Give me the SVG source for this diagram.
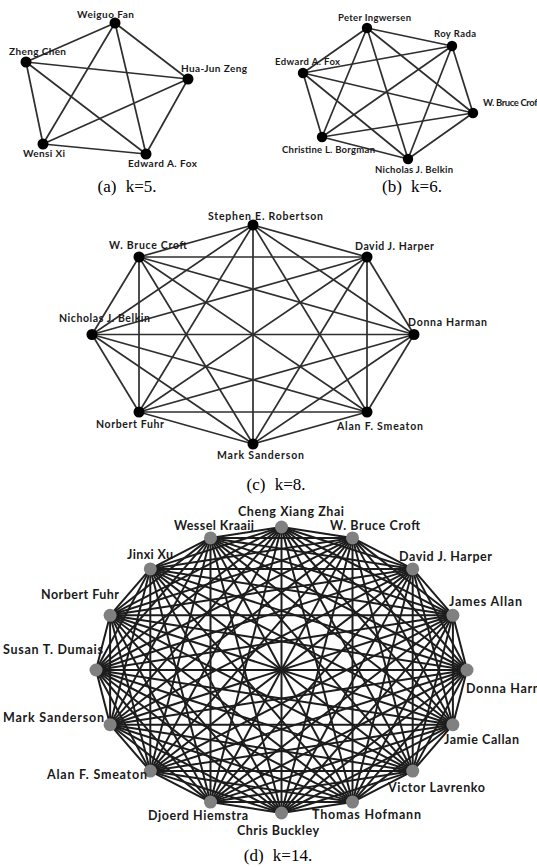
<svg xmlns="http://www.w3.org/2000/svg" width="537" height="867" viewBox="0 0 537 867">
<style>
.e1{stroke:#2e2e2e;stroke-width:1.7;fill:none}
.e2{stroke:#1c1c1c;stroke-width:2;fill:none}
.n1{fill:#000}
.n2{fill:#808080}
.lbl{font-family:Lato,"Open Sans","Liberation Sans",sans-serif;font-weight:bold;fill:#1a1a1a}
.la{font-size:10px}
.lb{font-size:9.5px}
.lc{font-size:10.5px}
.ld{font-size:12.5px}
.cap{font-family:"Liberation Serif","Times New Roman",serif;font-size:17px;fill:#000;word-spacing:5px;text-anchor:middle}
</style>
<rect width="537" height="867" fill="#fff"/>
<g id="connectors">
<g id="edges-a" class="e1">
<line x1="115" y1="23" x2="26" y2="62"/><line x1="115" y1="23" x2="188" y2="79"/><line x1="115" y1="23" x2="43" y2="144"/><line x1="115" y1="23" x2="146" y2="154"/>
<line x1="26" y1="62" x2="188" y2="79"/><line x1="26" y1="62" x2="43" y2="144"/><line x1="26" y1="62" x2="146" y2="154"/>
<line x1="188" y1="79" x2="43" y2="144"/><line x1="188" y1="79" x2="146" y2="154"/>
<line x1="43" y1="144" x2="146" y2="154"/>
</g>
<g id="edges-b" class="e1">
<line x1="367" y1="28" x2="452" y2="46"/><line x1="367" y1="28" x2="303" y2="73"/><line x1="367" y1="28" x2="473" y2="113"/><line x1="367" y1="28" x2="322" y2="137"/><line x1="367" y1="28" x2="408" y2="159"/>
<line x1="452" y1="46" x2="303" y2="73"/><line x1="452" y1="46" x2="473" y2="113"/><line x1="452" y1="46" x2="322" y2="137"/><line x1="452" y1="46" x2="408" y2="159"/>
<line x1="303" y1="73" x2="473" y2="113"/><line x1="303" y1="73" x2="322" y2="137"/><line x1="303" y1="73" x2="408" y2="159"/>
<line x1="473" y1="113" x2="322" y2="137"/><line x1="473" y1="113" x2="408" y2="159"/>
<line x1="322" y1="137" x2="408" y2="159"/>
</g>
<g id="edges-c" class="e1">
<line x1="253" y1="225" x2="367" y2="257"/><line x1="253" y1="225" x2="414" y2="334.5"/><line x1="253" y1="225" x2="367" y2="412"/><line x1="253" y1="225" x2="253" y2="444"/><line x1="253" y1="225" x2="139" y2="412"/><line x1="253" y1="225" x2="92" y2="334.5"/><line x1="253" y1="225" x2="139" y2="257"/>
<line x1="367" y1="257" x2="414" y2="334.5"/><line x1="367" y1="257" x2="367" y2="412"/><line x1="367" y1="257" x2="253" y2="444"/><line x1="367" y1="257" x2="139" y2="412"/><line x1="367" y1="257" x2="92" y2="334.5"/><line x1="367" y1="257" x2="139" y2="257"/>
<line x1="414" y1="334.5" x2="367" y2="412"/><line x1="414" y1="334.5" x2="253" y2="444"/><line x1="414" y1="334.5" x2="139" y2="412"/><line x1="414" y1="334.5" x2="92" y2="334.5"/><line x1="414" y1="334.5" x2="139" y2="257"/>
<line x1="367" y1="412" x2="253" y2="444"/><line x1="367" y1="412" x2="139" y2="412"/><line x1="367" y1="412" x2="92" y2="334.5"/><line x1="367" y1="412" x2="139" y2="257"/>
<line x1="253" y1="444" x2="139" y2="412"/><line x1="253" y1="444" x2="92" y2="334.5"/><line x1="253" y1="444" x2="139" y2="257"/>
<line x1="139" y1="412" x2="92" y2="334.5"/><line x1="139" y1="412" x2="139" y2="257"/>
<line x1="92" y1="334.5" x2="139" y2="257"/>
</g>
<g id="edges-d" class="e2">
<line x1="281.5" y1="527" x2="352.5" y2="537.9"/><line x1="281.5" y1="527" x2="412.7" y2="568.9"/><line x1="281.5" y1="527" x2="452.9" y2="615.3"/><line x1="281.5" y1="527" x2="467" y2="670"/><line x1="281.5" y1="527" x2="452.9" y2="724.7"/><line x1="281.5" y1="527" x2="412.7" y2="771.1"/><line x1="281.5" y1="527" x2="352.5" y2="802.1"/><line x1="281.5" y1="527" x2="281.5" y2="813"/><line x1="281.5" y1="527" x2="210.5" y2="802.1"/><line x1="281.5" y1="527" x2="150.3" y2="771.1"/><line x1="281.5" y1="527" x2="110.1" y2="724.7"/><line x1="281.5" y1="527" x2="96" y2="670"/><line x1="281.5" y1="527" x2="110.1" y2="615.3"/><line x1="281.5" y1="527" x2="150.3" y2="568.9"/><line x1="281.5" y1="527" x2="210.5" y2="537.9"/>
<line x1="352.5" y1="537.9" x2="412.7" y2="568.9"/><line x1="352.5" y1="537.9" x2="452.9" y2="615.3"/><line x1="352.5" y1="537.9" x2="467" y2="670"/><line x1="352.5" y1="537.9" x2="452.9" y2="724.7"/><line x1="352.5" y1="537.9" x2="412.7" y2="771.1"/><line x1="352.5" y1="537.9" x2="352.5" y2="802.1"/><line x1="352.5" y1="537.9" x2="281.5" y2="813"/><line x1="352.5" y1="537.9" x2="210.5" y2="802.1"/><line x1="352.5" y1="537.9" x2="150.3" y2="771.1"/><line x1="352.5" y1="537.9" x2="110.1" y2="724.7"/><line x1="352.5" y1="537.9" x2="96" y2="670"/><line x1="352.5" y1="537.9" x2="110.1" y2="615.3"/><line x1="352.5" y1="537.9" x2="150.3" y2="568.9"/><line x1="352.5" y1="537.9" x2="210.5" y2="537.9"/>
<line x1="412.7" y1="568.9" x2="452.9" y2="615.3"/><line x1="412.7" y1="568.9" x2="467" y2="670"/><line x1="412.7" y1="568.9" x2="452.9" y2="724.7"/><line x1="412.7" y1="568.9" x2="412.7" y2="771.1"/><line x1="412.7" y1="568.9" x2="352.5" y2="802.1"/><line x1="412.7" y1="568.9" x2="281.5" y2="813"/><line x1="412.7" y1="568.9" x2="210.5" y2="802.1"/><line x1="412.7" y1="568.9" x2="150.3" y2="771.1"/><line x1="412.7" y1="568.9" x2="110.1" y2="724.7"/><line x1="412.7" y1="568.9" x2="96" y2="670"/><line x1="412.7" y1="568.9" x2="110.1" y2="615.3"/><line x1="412.7" y1="568.9" x2="150.3" y2="568.9"/><line x1="412.7" y1="568.9" x2="210.5" y2="537.9"/>
<line x1="452.9" y1="615.3" x2="467" y2="670"/><line x1="452.9" y1="615.3" x2="452.9" y2="724.7"/><line x1="452.9" y1="615.3" x2="412.7" y2="771.1"/><line x1="452.9" y1="615.3" x2="352.5" y2="802.1"/><line x1="452.9" y1="615.3" x2="281.5" y2="813"/><line x1="452.9" y1="615.3" x2="210.5" y2="802.1"/><line x1="452.9" y1="615.3" x2="150.3" y2="771.1"/><line x1="452.9" y1="615.3" x2="110.1" y2="724.7"/><line x1="452.9" y1="615.3" x2="96" y2="670"/><line x1="452.9" y1="615.3" x2="110.1" y2="615.3"/><line x1="452.9" y1="615.3" x2="150.3" y2="568.9"/><line x1="452.9" y1="615.3" x2="210.5" y2="537.9"/>
<line x1="467" y1="670" x2="452.9" y2="724.7"/><line x1="467" y1="670" x2="412.7" y2="771.1"/><line x1="467" y1="670" x2="352.5" y2="802.1"/><line x1="467" y1="670" x2="281.5" y2="813"/><line x1="467" y1="670" x2="210.5" y2="802.1"/><line x1="467" y1="670" x2="150.3" y2="771.1"/><line x1="467" y1="670" x2="110.1" y2="724.7"/><line x1="467" y1="670" x2="96" y2="670"/><line x1="467" y1="670" x2="110.1" y2="615.3"/><line x1="467" y1="670" x2="150.3" y2="568.9"/><line x1="467" y1="670" x2="210.5" y2="537.9"/>
<line x1="452.9" y1="724.7" x2="412.7" y2="771.1"/><line x1="452.9" y1="724.7" x2="352.5" y2="802.1"/><line x1="452.9" y1="724.7" x2="281.5" y2="813"/><line x1="452.9" y1="724.7" x2="210.5" y2="802.1"/><line x1="452.9" y1="724.7" x2="150.3" y2="771.1"/><line x1="452.9" y1="724.7" x2="110.1" y2="724.7"/><line x1="452.9" y1="724.7" x2="96" y2="670"/><line x1="452.9" y1="724.7" x2="110.1" y2="615.3"/><line x1="452.9" y1="724.7" x2="150.3" y2="568.9"/><line x1="452.9" y1="724.7" x2="210.5" y2="537.9"/>
<line x1="412.7" y1="771.1" x2="352.5" y2="802.1"/><line x1="412.7" y1="771.1" x2="281.5" y2="813"/><line x1="412.7" y1="771.1" x2="210.5" y2="802.1"/><line x1="412.7" y1="771.1" x2="150.3" y2="771.1"/><line x1="412.7" y1="771.1" x2="110.1" y2="724.7"/><line x1="412.7" y1="771.1" x2="96" y2="670"/><line x1="412.7" y1="771.1" x2="110.1" y2="615.3"/><line x1="412.7" y1="771.1" x2="150.3" y2="568.9"/><line x1="412.7" y1="771.1" x2="210.5" y2="537.9"/>
<line x1="352.5" y1="802.1" x2="281.5" y2="813"/><line x1="352.5" y1="802.1" x2="210.5" y2="802.1"/><line x1="352.5" y1="802.1" x2="150.3" y2="771.1"/><line x1="352.5" y1="802.1" x2="110.1" y2="724.7"/><line x1="352.5" y1="802.1" x2="96" y2="670"/><line x1="352.5" y1="802.1" x2="110.1" y2="615.3"/><line x1="352.5" y1="802.1" x2="150.3" y2="568.9"/><line x1="352.5" y1="802.1" x2="210.5" y2="537.9"/>
<line x1="281.5" y1="813" x2="210.5" y2="802.1"/><line x1="281.5" y1="813" x2="150.3" y2="771.1"/><line x1="281.5" y1="813" x2="110.1" y2="724.7"/><line x1="281.5" y1="813" x2="96" y2="670"/><line x1="281.5" y1="813" x2="110.1" y2="615.3"/><line x1="281.5" y1="813" x2="150.3" y2="568.9"/><line x1="281.5" y1="813" x2="210.5" y2="537.9"/>
<line x1="210.5" y1="802.1" x2="150.3" y2="771.1"/><line x1="210.5" y1="802.1" x2="110.1" y2="724.7"/><line x1="210.5" y1="802.1" x2="96" y2="670"/><line x1="210.5" y1="802.1" x2="110.1" y2="615.3"/><line x1="210.5" y1="802.1" x2="150.3" y2="568.9"/><line x1="210.5" y1="802.1" x2="210.5" y2="537.9"/>
<line x1="150.3" y1="771.1" x2="110.1" y2="724.7"/><line x1="150.3" y1="771.1" x2="96" y2="670"/><line x1="150.3" y1="771.1" x2="110.1" y2="615.3"/><line x1="150.3" y1="771.1" x2="150.3" y2="568.9"/><line x1="150.3" y1="771.1" x2="210.5" y2="537.9"/>
<line x1="110.1" y1="724.7" x2="96" y2="670"/><line x1="110.1" y1="724.7" x2="110.1" y2="615.3"/><line x1="110.1" y1="724.7" x2="150.3" y2="568.9"/><line x1="110.1" y1="724.7" x2="210.5" y2="537.9"/>
<line x1="96" y1="670" x2="110.1" y2="615.3"/><line x1="96" y1="670" x2="150.3" y2="568.9"/><line x1="96" y1="670" x2="210.5" y2="537.9"/>
<line x1="110.1" y1="615.3" x2="150.3" y2="568.9"/><line x1="110.1" y1="615.3" x2="210.5" y2="537.9"/>
<line x1="150.3" y1="568.9" x2="210.5" y2="537.9"/>
</g>
</g>

<g id="graph-a">
<g id="a-weiguo-fan"><circle class="n1" cx="115" cy="23" r="5.5"/><text class="lbl la" x="77" y="18" textLength="57">Weiguo Fan</text></g>
<g id="a-zheng-chen"><circle class="n1" cx="26" cy="62" r="5.5"/><text class="lbl la" x="9" y="55" textLength="57">Zheng Chen</text></g>
<g id="a-hua-jun-zeng"><circle class="n1" cx="188" cy="79" r="5.5"/><text class="lbl la" x="181" y="72" textLength="66">Hua-Jun Zeng</text></g>
<g id="a-wensi-xi"><circle class="n1" cx="43" cy="144" r="5.5"/><text class="lbl la" x="23" y="157" textLength="42">Wensi Xi</text></g>
<g id="a-edward-fox"><circle class="n1" cx="146" cy="154" r="5.5"/><text class="lbl la" x="128" y="167" textLength="69">Edward A. Fox</text></g>
</g>
<text id="cap-a" class="cap" x="127" y="192">(a) k=5.</text>

<g id="graph-b">
<g id="b-peter-ingwersen"><circle class="n1" cx="367" cy="28" r="5.2"/><text class="lbl lb" x="338" y="21" textLength="73">Peter Ingwersen</text></g>
<g id="b-roy-rada"><circle class="n1" cx="452" cy="46" r="5.2"/><text class="lbl lb" x="434" y="37" textLength="42">Roy Rada</text></g>
<g id="b-edward-fox"><circle class="n1" cx="303" cy="73" r="5.2"/><text class="lbl lb" x="275" y="64.5" textLength="65">Edward A. Fox</text></g>
<g id="b-w-bruce-croft"><circle class="n1" cx="473" cy="113" r="5.2"/><text class="lbl lb" x="483" y="106" textLength="58">W. Bruce Croft</text></g>
<g id="b-christine-borgman"><circle class="n1" cx="322" cy="137" r="5.2"/><text class="lbl lb" x="282" y="152.5" textLength="93">Christine L. Borgman</text></g>
<g id="b-nicholas-belkin"><circle class="n1" cx="408" cy="159" r="5.2"/><text class="lbl lb" x="375" y="172.5" textLength="78">Nicholas J. Belkin</text></g>
</g>
<text id="cap-b" class="cap" x="412" y="192">(b) k=6.</text>

<g id="graph-c">
<g id="c-stephen-robertson"><circle class="n1" cx="253" cy="225" r="5.5"/><text class="lbl lc" x="208" y="219.5" textLength="115">Stephen E. Robertson</text></g>
<g id="c-david-harper"><circle class="n1" cx="367" cy="257" r="5.5"/><text class="lbl lc" x="355" y="250" textLength="79">David J. Harper</text></g>
<g id="c-donna-harman"><circle class="n1" cx="414" cy="334.5" r="5.5"/><text class="lbl lc" x="408" y="326" textLength="79">Donna Harman</text></g>
<g id="c-alan-smeaton"><circle class="n1" cx="367" cy="412" r="5.5"/><text class="lbl lc" x="337" y="430" textLength="86">Alan F. Smeaton</text></g>
<g id="c-mark-sanderson"><circle class="n1" cx="253" cy="444" r="5.5"/><text class="lbl lc" x="217" y="459" textLength="87">Mark Sanderson</text></g>
<g id="c-norbert-fuhr"><circle class="n1" cx="139" cy="412" r="5.5"/><text class="lbl lc" x="96" y="428" textLength="68">Norbert Fuhr</text></g>
<g id="c-nicholas-belkin"><circle class="n1" cx="92" cy="334.5" r="5.5"/><text class="lbl lc" x="59" y="322" textLength="91">Nicholas J. Belkin</text></g>
<g id="c-w-bruce-croft"><circle class="n1" cx="139" cy="257" r="5.5"/><text class="lbl lc" x="109" y="249" textLength="78">W. Bruce Croft</text></g>
</g>
<text id="cap-c" class="cap" x="276" y="490">(c) k=8.</text>

<g id="graph-d">
<g id="d-cheng-xiang-zhai"><circle class="n2" cx="281.5" cy="527" r="6.5"/><text class="lbl ld" x="238" y="515.5" textLength="106">Cheng Xiang Zhai</text></g>
<g id="d-w-bruce-croft"><circle class="n2" cx="352.5" cy="537.9" r="6.5"/><text class="lbl ld" x="330" y="530" textLength="90">W. Bruce Croft</text></g>
<g id="d-david-harper"><circle class="n2" cx="412.7" cy="568.9" r="6.5"/><text class="lbl ld" x="399" y="561" textLength="93">David J. Harper</text></g>
<g id="d-james-allan"><circle class="n2" cx="452.9" cy="615.3" r="6.5"/><text class="lbl ld" x="449" y="606" textLength="73">James Allan</text></g>
<g id="d-donna-harman"><circle class="n2" cx="467" cy="670" r="6.5"/><text class="lbl ld" x="466" y="693" textLength="92">Donna Harman</text></g>
<g id="d-jamie-callan"><circle class="n2" cx="452.9" cy="724.7" r="6.5"/><text class="lbl ld" x="444" y="744" textLength="75">Jamie Callan</text></g>
<g id="d-victor-lavrenko"><circle class="n2" cx="412.7" cy="771.1" r="6.5"/><text class="lbl ld" x="388" y="792" textLength="97">Victor Lavrenko</text></g>
<g id="d-thomas-hofmann"><circle class="n2" cx="352.5" cy="802.1" r="6.5"/><text class="lbl ld" x="312" y="819" textLength="109">Thomas Hofmann</text></g>
<g id="d-chris-buckley"><circle class="n2" cx="281.5" cy="813" r="6.5"/><text class="lbl ld" x="237" y="835" textLength="82">Chris Buckley</text></g>
<g id="d-djoerd-hiemstra"><circle class="n2" cx="210.5" cy="802.1" r="6.5"/><text class="lbl ld" x="148" y="820" textLength="100">Djoerd Hiemstra</text></g>
<g id="d-alan-smeaton"><circle class="n2" cx="150.3" cy="771.1" r="6.5"/><text class="lbl ld" x="47" y="779" textLength="100">Alan F. Smeaton</text></g>
<g id="d-mark-sanderson"><circle class="n2" cx="110.1" cy="724.7" r="6.5"/><text class="lbl ld" x="3" y="722" textLength="101">Mark Sanderson</text></g>
<g id="d-susan-dumais"><circle class="n2" cx="96" cy="670" r="6.5"/><text class="lbl ld" x="3" y="654" textLength="100">Susan T. Dumais</text></g>
<g id="d-norbert-fuhr"><circle class="n2" cx="110.1" cy="615.3" r="6.5"/><text class="lbl ld" x="41" y="599" textLength="78">Norbert Fuhr</text></g>
<g id="d-jinxi-xu"><circle class="n2" cx="150.3" cy="568.9" r="6.5"/><text class="lbl ld" x="127" y="559" textLength="46">Jinxi Xu</text></g>
<g id="d-wessel-kraaij"><circle class="n2" cx="210.5" cy="537.9" r="6.5"/><text class="lbl ld" x="174" y="530" textLength="80">Wessel Kraaij</text></g>
</g>
<text id="cap-d" class="cap" x="278" y="861">(d) k=14.</text>
</svg>
